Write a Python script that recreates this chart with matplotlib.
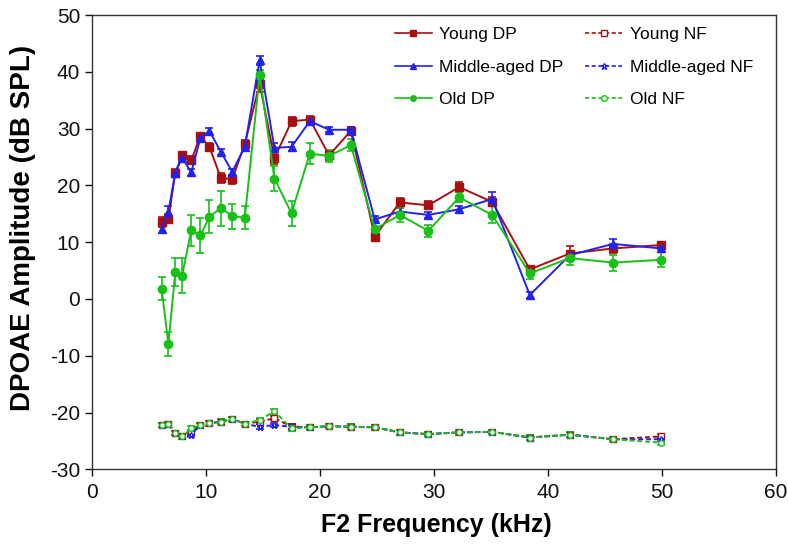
import matplotlib
matplotlib.use("Agg")
import matplotlib.pyplot as plt
from matplotlib.lines import Line2D

plt.rcParams['font.family'] = ['Liberation Sans', 'DejaVu Sans']
plt.rcParams['axes.unicode_minus'] = False

freq = [6.1, 6.7, 7.3, 7.9, 8.7, 9.5, 10.3, 11.3, 12.3, 13.4, 14.7, 16.0, 17.5,
        19.1, 20.8, 22.7, 24.8, 27.0, 29.5, 32.2, 35.1, 38.4, 41.9, 45.7, 49.9]

young_dp = [13.5, 14.1, 22.2, 25.3, 24.4, 28.7, 26.8, 21.3, 21.1, 27.3, 37.9, 24.8, 31.3,
            31.6, 25.3, 29.6, 11.0, 17.0, 16.5, 19.7, 17.1, 5.2, 8.0, 8.9, 9.5]
young_dp_err = [0.9, 0.8, 0.7, 0.6, 0.7, 0.6, 0.7, 0.8, 0.8, 0.7, 1.5, 1.0, 0.8,
                0.6, 0.8, 0.6, 0.8, 0.8, 0.7, 0.9, 0.8, 0.6, 1.3, 0.8, 0.5]
mid_dp = [12.4, 15.4, 22.2, 24.9, 22.3, 28.3, 29.6, 25.9, 22.4, 26.8, 42.0, 26.6, 26.8,
          31.3, 29.8, 29.8, 14.0, 15.4, 14.8, 15.8, 17.6, 0.7, 7.7, 9.7, 8.9]
mid_dp_err = [0.7, 0.9, 0.6, 0.5, 0.6, 0.5, 0.5, 0.6, 0.5, 0.6, 0.8, 0.8, 0.8,
              0.5, 0.4, 0.5, 0.7, 0.6, 0.6, 0.6, 1.2, 0.6, 0.7, 0.8, 0.7]
old_dp = [1.8, -7.9, 4.7, 4.1, 12.1, 11.2, 14.5, 16.0, 14.6, 14.3, 39.4, 21.2, 15.1,
          25.6, 25.2, 27.1, 12.3, 14.8, 12.0, 17.9, 14.8, 4.5, 7.2, 6.4, 6.9]
old_dp_err = [2.0, 2.1, 2.5, 3.1, 2.7, 3.1, 2.9, 3.1, 2.2, 2.0, 1.0, 2.2, 2.2,
              1.9, 1.1, 1.0, 1.1, 1.2, 1.1, 0.9, 1.5, 1.0, 1.3, 1.4, 1.3]

young_nf = [-22.2, -22.0, -23.6, -24.2, -23.4, -22.2, -21.9, -21.6, -21.1, -22.0, -21.6, -21.0, -22.5,
            -22.6, -22.4, -22.5, -22.6, -23.5, -23.8, -23.5, -23.4, -24.4, -23.9, -24.7, -24.2]
mid_nf = [-22.2, -22.0, -23.6, -24.2, -23.9, -22.2, -21.9, -21.6, -21.1, -22.0, -22.5, -22.2, -22.5,
          -22.6, -22.4, -22.5, -22.6, -23.5, -23.8, -23.5, -23.4, -24.4, -23.9, -24.7, -24.7]
old_nf = [-22.2, -22.0, -23.6, -24.2, -22.8, -22.2, -21.9, -21.6, -21.1, -22.0, -21.3, -19.8, -22.8,
          -22.6, -22.4, -22.5, -22.6, -23.5, -23.8, -23.5, -23.4, -24.4, -23.9, -24.7, -25.3]
nf_err = [0.4] * 25

red = '#a81010'
blue = '#2222ee'
green = '#18c018'

fig = plt.figure(figsize=(7.88, 5.44), dpi=100)
ax = fig.add_axes([0.1168, 0.1373, 0.868, 0.835])

def plot_series(x, y, e, color, marker, ls, mfc, ms, z):
    ax.errorbar(x, y, yerr=e, color=color, ecolor=color, elinewidth=1.2, capsize=3,
                capthick=1.2, marker=marker, markersize=ms, markerfacecolor=mfc,
                markeredgecolor=color, linestyle=ls, linewidth=1.4, zorder=z)

plot_series(freq, young_nf, nf_err, red, 's', (0, (2.5, 1.5)), 'white', 4, 2)
plot_series(freq, mid_nf, nf_err, blue, '*', (0, (2.5, 1.5)), 'white', 5, 2)
plot_series(freq, old_nf, nf_err, green, 'o', (0, (2.5, 1.5)), 'white', 4, 2)
plot_series(freq, young_dp, young_dp_err, red, 's', '-', red, 6, 3)
plot_series(freq, mid_dp, mid_dp_err, blue, '^', '-', blue, 6, 3)
plot_series(freq, old_dp, old_dp_err, green, 'o', '-', green, 6, 3)

ax.set_xlim(0, 60)
ax.set_ylim(-30, 50)
ax.set_xticks([0, 10, 20, 30, 40, 50, 60])
ax.set_yticks([-30, -20, -10, 0, 10, 20, 30, 40, 50])
ax.tick_params(direction='out', length=5, width=1, labelsize=15, colors='#111111')
ax.tick_params(axis='x', pad=5)
for s in ax.spines.values():
    s.set_linewidth(1.0)
    s.set_color('#333333')

ax.set_xlabel('F2 Frequency (kHz)', fontsize=18, fontweight='bold')
ax.set_ylabel('DPOAE Amplitude (dB SPL)', fontsize=20, fontweight='bold')
ax.xaxis.set_label_coords(0.503, -0.097)
ax.yaxis.set_label_coords(-0.082, 0.532)

handles = [
    Line2D([], [], color=red, marker='s', markersize=4, linewidth=1.2, label='Young DP'),
    Line2D([], [], color=blue, marker='^', markersize=4, linewidth=1.2, label='Middle-aged DP'),
    Line2D([], [], color=green, marker='o', markersize=4, linewidth=1.2, label='Old DP'),
    Line2D([], [], color=red, marker='s', markersize=4, markerfacecolor='white',
           linestyle=(0, (2.5, 1.5)), linewidth=1.2, label='Young NF'),
    Line2D([], [], color=blue, marker='*', markersize=5, markerfacecolor='white',
           linestyle=(0, (2.5, 1.5)), linewidth=1.2, label='Middle-aged NF'),
    Line2D([], [], color=green, marker='o', markersize=4, markerfacecolor='white',
           linestyle=(0, (2.5, 1.5)), linewidth=1.2, label='Old NF'),
]
ax.legend(handles=handles, ncol=2, frameon=False, fontsize=12.5, loc='upper left',
          bbox_to_anchor=(0.433, 0.989), borderaxespad=0.0, handlelength=2.1,
          columnspacing=1.25, labelspacing=1.0, handletextpad=0.45)

fig.savefig('out.png', dpi=100)
